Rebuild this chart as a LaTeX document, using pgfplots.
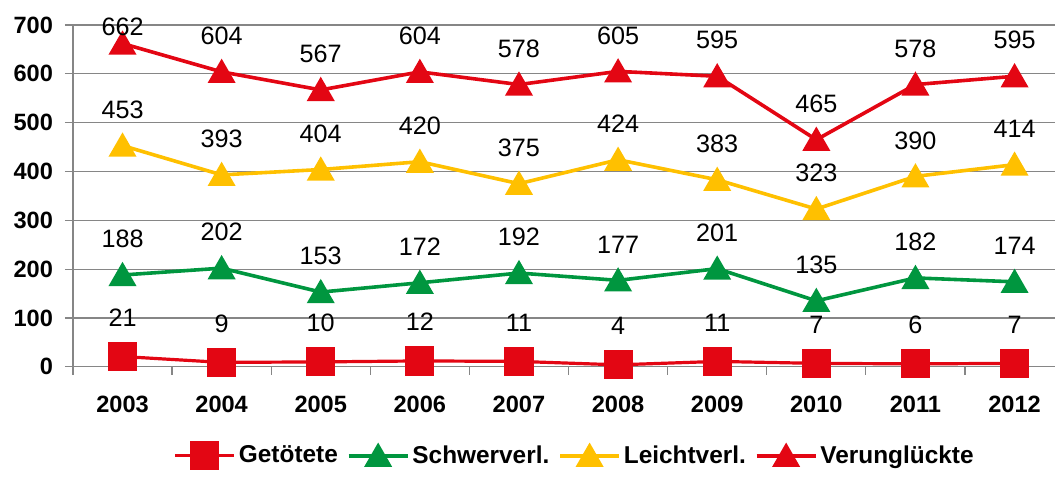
\documentclass[border=0pt]{standalone}
\usepackage{pgfplots}
\pgfplotsset{compat=1.18}
\usepackage{pgfplotstable}
\usepackage{fontspec}
\setmainfont{Liberation Sans}
\definecolor{cred}{HTML}{E30613}
\definecolor{cgreen}{HTML}{00963F}
\definecolor{cyellow}{HTML}{FFC000}
\definecolor{cgrid}{HTML}{868686}
\pgfplotstableread{
x y dy
0 21 19.5
1 9 19.5
2 10 19.5
3 12 19.5
4 11 19.5
5 4 19.5
6 11 19.5
7 7 19.5
8 6 19.5
9 7 19.5
}\getoetete
\pgfplotstableread{
x y dy
0 188 19.5
1 202 19.5
2 153 19.5
3 172 19.5
4 192 19.5
5 177 19.5
6 201 19.5
7 135 19.5
8 182 19.5
9 174 19.5
}\schwer
\pgfplotstableread{
x y dy
0 453 19.5
1 393 19.5
2 404 19.5
3 420 19.5
4 375 19.5
5 424 19.5
6 383 19.5
7 323 19.5
8 390 19.5
9 414 19.5
}\leicht
\pgfplotstableread{
x y dy
0 662 10
1 604 19.5
2 567 19.5
3 604 19.5
4 578 19.5
5 605 19.5
6 595 19.5
7 465 19.5
8 578 19.5
9 595 19.5
}\verung
\begin{document}
\begin{tikzpicture}
\begin{axis}[
 name=ax, at={(0,0)}, anchor=south west,
 scale only axis, width=491.5pt, height=171pt,
 xmin=-0.5, xmax=9.412, ymin=0, ymax=700,
 clip=false,
 axis lines=left, axis line style={draw=cgrid, line width=0.6pt, -},
 ytick={0,100,...,700},
 ymajorgrids, grid style={draw=cgrid, line width=0.6pt},
 xtick={-0.5,0.5,...,9.5}, xticklabels={},
 extra x ticks={0,1,2,3,4,5,6,7,8,9},
 extra x tick labels={2003,2004,2005,2006,2007,2008,2009,2010,2011,2012},
 extra x tick style={major tick length=0pt, grid=none},
 tick align=outside, major tick length=4pt,
 tick style={draw=cgrid, line width=0.6pt},
 tick label style={font=\fontsize{11.8}{13}\selectfont\bfseries},
 x tick label style={anchor=center, yshift=-19pt},
 y tick label style={anchor=east, xshift=-2.5pt},
 /pgf/number format/assume math mode=true,
 /pgf/number format/1000 sep={},
 legend columns=4,
 legend style={draw=none, fill=none, at={(axis description cs:0.5112,-0.2603)}, anchor=center,
   font=\fontsize{12.2}{14}\selectfont\bfseries,
   nodes={inner xsep=1.5pt, inner ysep=1pt},
   /tikz/every even column/.append style={column sep=3pt}},
 legend image code/.code={\draw[mark repeat=2,mark phase=2,#1] plot coordinates {(0pt,0pt) (14.75pt,0pt) (29.5pt,0pt)};},
 nodes near coords,
 every node near coord/.append style={anchor=center, yshift=\labdy pt, black, font=\fontsize{12.6}{14}\selectfont},
]
\addplot[cred, line width=1.6pt, mark=square*, mark size=6.5pt, mark options={solid},
  visualization depends on={\thisrow{dy}\as\labdy}] table[x=x,y=y] {\getoetete};
\addlegendentry{Getötete}
\addplot[cgreen, line width=1.8pt, mark=triangle*, mark size=6.3pt, mark options={solid, yshift=-1.5pt},
  visualization depends on={\thisrow{dy}\as\labdy}] table[x=x,y=y] {\schwer};
\addlegendentry{Schwerverl.}
\addplot[cyellow, line width=1.8pt, mark=triangle*, mark size=6.3pt, mark options={solid, yshift=-1.5pt},
  visualization depends on={\thisrow{dy}\as\labdy}] table[x=x,y=y] {\leicht};
\addlegendentry{Leichtverl.}
\addplot[cred, line width=1.8pt, mark=triangle*, mark size=6.3pt, mark options={solid, yshift=-1.5pt},
  visualization depends on={\thisrow{dy}\as\labdy}] table[x=x,y=y] {\verung};
\addlegendentry{Verunglückte}
\end{axis}
\useasboundingbox (-36.5pt,-65.5pt) rectangle (491.5pt,183.5pt);
\end{tikzpicture}
\end{document}
